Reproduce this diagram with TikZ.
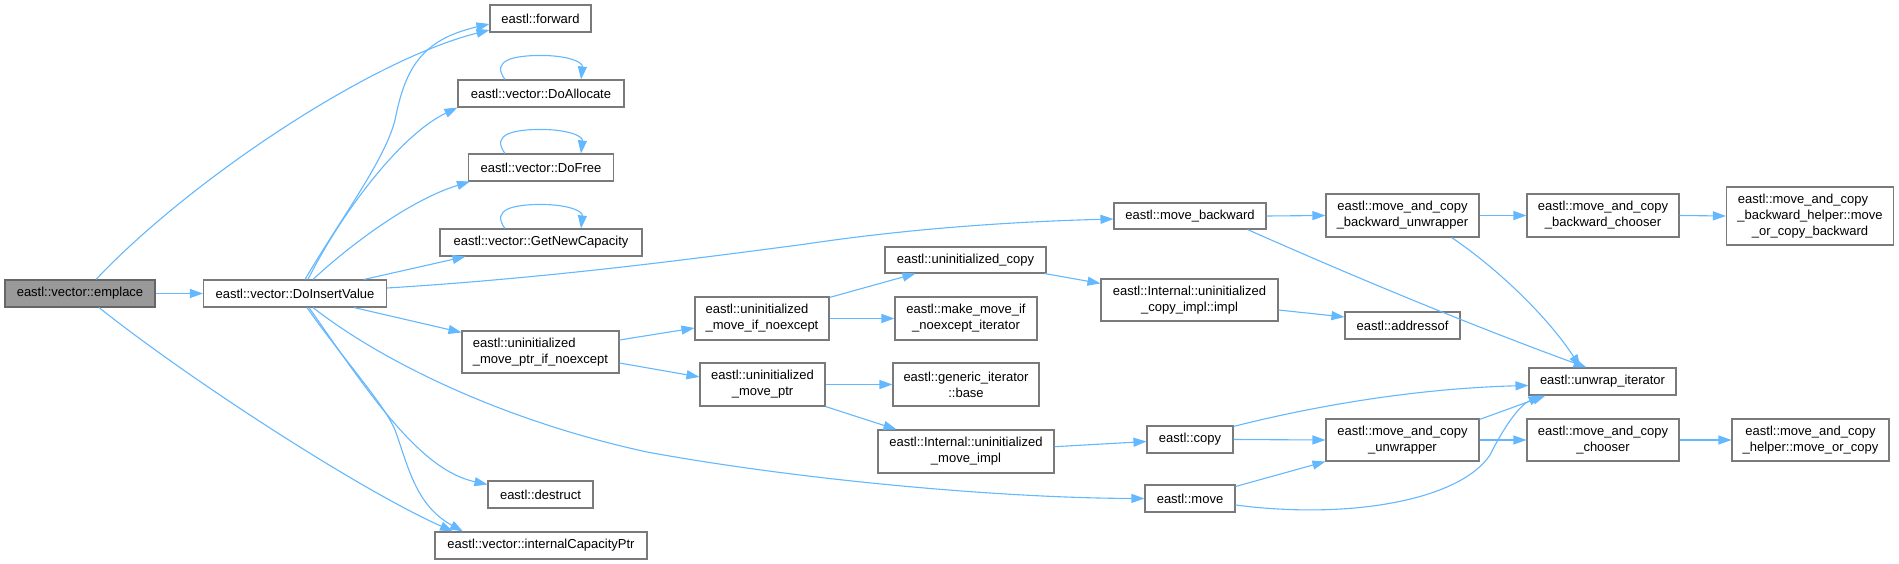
\documentclass[tikz,border=0pt]{standalone}
\usepackage{fontspec}
\setmainfont{Liberation Sans}
\usetikzlibrary{arrows.meta}
\definecolor{edgeblue}{HTML}{63B8FF}
\definecolor{nodeborder}{HTML}{7A7A7A}
\definecolor{rootfill}{HTML}{999999}
\definecolor{rootborder}{HTML}{666666}
\begin{document}
\begin{tikzpicture}[x=1pt,y=-1pt,
  fn/.style={draw=nodeborder, line width=1.1pt, fill=white, inner sep=0pt,
    font=\fontsize{13}{16}\selectfont, align=center, text=black},
  rootfn/.style={fn, fill=rootfill, draw=rootborder},
  call/.style={draw=edgeblue, line width=1.1pt, -{Triangle[length=13pt,width=9pt]}}
]
\fill[white] (0,0) rectangle (1899,564);
\useasboundingbox (0,0) rectangle (1899,564);

% nodes
\node[rootfn, minimum width=150pt, minimum height=27pt] (emp) at (80,293.5) {eastl::vector::emplace};
\node[fn, minimum width=183pt, minimum height=27pt] (ins) at (295,293.5) {eastl::vector::DoInsertValue};
\node[fn, minimum width=101pt, minimum height=27pt] (fwd) at (540.5,18.5) {eastl::forward};
\node[fn, minimum width=166pt, minimum height=27pt] (alloc) at (541,93.5) {eastl::vector::DoAllocate};
\node[fn, minimum width=145pt, minimum height=27pt] (free) at (541,167.5) {eastl::vector::DoFree};
\node[fn, minimum width=202pt, minimum height=27pt] (gnc) at (541,242.5) {eastl::vector::GetNewCapacity};
\node[fn, minimum width=157pt, minimum height=42pt, align=left] (umpin) at (540.5,352) {eastl::uninitialized\\\_move\_ptr\_if\_noexcept};
\node[fn, minimum width=105pt, minimum height=27pt] (destr) at (540.5,494.5) {eastl::destruct};
\node[fn, minimum width=212pt, minimum height=27pt] (icp) at (541,545.5) {eastl::vector::internalCapacityPtr};
\node[fn, minimum width=152pt, minimum height=26pt] (mbw) at (1190,216) {eastl::move\_backward};
\node[fn, minimum width=161pt, minimum height=26pt] (ucopy) at (965.5,260) {eastl::uninitialized\_copy};
\node[fn, minimum width=177pt, minimum height=42pt] (ucimpl) at (1189.5,300) {eastl::Internal::uninitialized\\\_copy\_impl::impl};
\node[fn, minimum width=134pt, minimum height=43pt, align=left] (umin) at (762,318.5) {eastl::uninitialized\\\_move\_if\_noexcept};
\node[fn, minimum width=142pt, minimum height=43pt] (mmine) at (966,318.5) {eastl::make\_move\_if\\\_noexcept\_iterator};
\node[fn, minimum width=125pt, minimum height=43pt] (umptr) at (762.5,384.5) {eastl::uninitialized\\\_move\_ptr};
\node[fn, minimum width=146pt, minimum height=43pt] (gib) at (966,384.5) {eastl::generic\_iterator\\::base};
\node[fn, minimum width=176pt, minimum height=43pt] (umimpl) at (966,451.5) {eastl::Internal::uninitialized\\\_move\_impl};
\node[fn, minimum width=86pt, minimum height=27pt] (copy) at (1190,439.5) {eastl::copy};
\node[fn, minimum width=90pt, minimum height=27pt] (move) at (1190,498.5) {eastl::move};
\node[fn, minimum width=153pt, minimum height=43pt] (macbu) at (1402.5,215.5) {eastl::move\_and\_copy\\\_backward\_unwrapper};
\node[fn, minimum width=152pt, minimum height=43pt] (macbc) at (1603,215.5) {eastl::move\_and\_copy\\\_backward\_chooser};
\node[fn, minimum width=167pt, minimum height=58pt] (macbh) at (1810,216) {eastl::move\_and\_copy\hspace*{14pt}\\\_backward\_helper::move\\\_or\_copy\_backward};
\node[fn, minimum width=115pt, minimum height=27pt] (addr) at (1402.5,325.5) {eastl::addressof};
\node[fn, minimum width=147pt, minimum height=27pt] (unwrap) at (1602.5,381.5) {eastl::unwrap\_iterator};
\node[fn, minimum width=153pt, minimum height=42pt] (macu) at (1402.5,440) {eastl::move\_and\_copy\\\_unwrapper};
\node[fn, minimum width=152pt, minimum height=42pt] (macc) at (1603,440) {eastl::move\_and\_copy\\\_chooser};
\node[fn, minimum width=157pt, minimum height=42pt] (mach) at (1810.5,440) {eastl::move\_and\_copy\\\_helper::move\_or\_copy};

% edges from emplace
\draw[call] (emp.east) -- (ins.west);
\draw[call] ([xshift=16pt]emp.north) .. controls (190,180) and (370,60) .. ([yshift=-11.5pt]fwd.west);
\draw[call] ([xshift=19pt]emp.south) .. controls (190,380) and (360,490) .. ([xshift=-88pt]icp.north);

% edges from DoInsertValue
\draw[call] ([xshift=10pt]ins.north) .. controls (340,220) and (385,160) .. (395,120)
  .. controls (405,70) and (420,40) .. ([yshift=-5.5pt]fwd.west);
\draw[call] ([xshift=13pt]ins.north) .. controls (340,215) and (400,135) .. (alloc.south west);
\draw[call] ([xshift=18pt]ins.north) .. controls (350,245) and (410,200) .. ([xshift=2pt]free.south west);
\draw[call] ([xshift=69pt]ins.north) -- ([xshift=26pt]gnc.south west);
\draw[call] ([yshift=5.5pt]ins.east) .. controls (550,278) and (700,258) .. (806,244)
  .. controls (900,230) and (1000,222) .. ([yshift=-3pt]mbw.west);
\draw[call] ([xshift=59pt]ins.south) -- ([yshift=-2pt]umpin.north west);
\draw[call] ([xshift=18pt]ins.south) .. controls (380,360) and (500,420) .. (647,452)
  .. controls (800,480) and (1000,498) .. (move.west);
\draw[call] ([xshift=14pt]ins.south) .. controls (370,395) and (420,470) .. ([yshift=-4pt]destr.north west);
\draw[call] ([xshift=12pt]ins.south) .. controls (340,355) and (385,405) .. (395,430)
  .. controls (408,465) and (415,505) .. ([xshift=-78pt]icp.north);

% self loops
\foreach \n in {alloc,free,gnc}{
  \draw[call] ([xshift=-36pt]\n.north) .. controls +(-15,-20) and +(-25,0) .. ([yshift=24pt]\n.north)
    .. controls +(25,0) and +(2,-18) .. ([xshift=40pt]\n.north);
}

% uninitialized chain
\draw[call] ([yshift=12pt]umpin.east) -- ([yshift=-9.5pt]umin.west);
\draw[call] ([yshift=-11pt]umpin.east) -- ([yshift=7.5pt]umptr.west);
\draw[call] ([yshift=-1pt]umin.north east) -- ([xshift=31pt]ucopy.south west);
\draw[call] (umin.east) -- (mmine.west);
\draw[call] ([xshift=-2pt]ucopy.south east) -- ([yshift=-5pt]ucimpl.north west);
\draw[call] ([yshift=-10pt]ucimpl.east) -- ([yshift=8.5pt]addr.west);
\draw[call] (umptr.east) -- (gib.west);
\draw[call] (umptr.south east) -- ([xshift=19pt]umimpl.north west);
\draw[call] ([yshift=4.8pt]umimpl.east) -- ([yshift=-2pt]copy.west);

% copy / move
\draw[call] ([yshift=-1pt]copy.north east) .. controls (1330,402) and (1430,388) .. ([yshift=-4pt]unwrap.west);
\draw[call] (copy.east) -- (macu.west);
\draw[call] ([yshift=12pt]move.east) -- (macu.south west);
\draw[call] ([yshift=-6.5pt]move.east) .. controls (1350,520) and (1460,500) .. (1490,455)
  .. controls (1505,425) and (1520,405) .. ([xshift=13pt]unwrap.south west);
\draw[call] ([yshift=-1pt]macu.north east) -- ([xshift=17pt]unwrap.south west);
\draw[call] (macu.east) -- (macc.west);
\draw[call] (macc.east) -- (mach.west);

% backward chain
\draw[call] (mbw.east) -- (macbu.west);
\draw[call] (macbu.east) -- (macbc.west);
\draw[call] (macbc.east) -- (macbh.west);
\draw[call] ([xshift=-19pt]mbw.south east) .. controls (1350,275) and (1470,325) .. ([xshift=-16pt]unwrap.north);
\draw[call] ([xshift=-28pt]macbu.south east) .. controls (1500,270) and (1550,320) .. ([xshift=-22pt]unwrap.north);
\end{tikzpicture}
\end{document}
